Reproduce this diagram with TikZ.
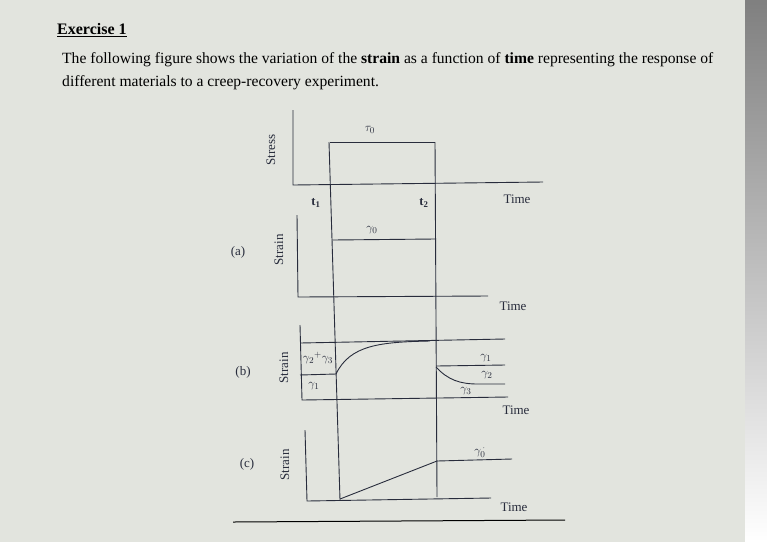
\documentclass[tikz,border=0pt]{standalone}
\usepackage{fontspec}
\setmainfont{Liberation Serif}
\definecolor{paper}{RGB}{226,228,222}
\definecolor{ink}{RGB}{40,44,60}
\definecolor{shade}{RGB}{60,62,64}
\begin{document}
\begin{tikzpicture}[x=1pt,y=-1pt,
  ax/.style={draw=ink,line width=0.9pt},
  lbl/.style={text=ink,font=\fontsize{13}{14}\selectfont,inner sep=0pt},
  gl/.style={text=ink,font=\fontsize{12.5}{13}\selectfont,inner sep=0pt},
  body/.style={text=black,font=\fontsize{15.6}{18}\selectfont,anchor=west,inner sep=0pt}]
\useasboundingbox (0,0) rectangle (767,542);
\fill[paper] (0,0) rectangle (767,542);
\fill[shade] (745,0) rectangle (767,542);
% heading and text
\node[body,font=\bfseries\fontsize{16}{18}\selectfont] (ex) at (57,30) {\underline{Exercise 1}};
\node[body] (l1) at (62,60) {The following figure shows the variation of the \textbf{strain} as a function of \textbf{time} representing the response of};
\node[body] (l2) at (62,83) {different materials to a creep-recovery experiment.};
% stress
\draw[ax] (293,110) -- (293,185) -- (543,182);
\draw[ax] (330,142) -- (435,142);
\draw[ax] (329,142) -- (340,500);
\draw[ax] (435,142) -- (437,497);
\node[lbl,rotate=90] (st) at (271,150) {Stress};
\node[gl] (tau) at (370,130) {$\tau_0$};
\node[gl] (t1) at (316,203) {$\mathbf{t_1}$};
\node[gl] (t2) at (424,203) {$\mathbf{t_2}$};
\node[lbl] (ti0) at (517,199) {Time};
% (a)
\draw[ax] (297,215) -- (298,297) -- (488,296);
\draw[ax] (332,240) -- (435,239);
\node[lbl] (pa) at (238,252) {(a)};
\node[lbl,rotate=90] (sa) at (279,250) {Strain};
\node[gl] (g0) at (372,230) {$\gamma_0$};
\node[lbl] (ti1) at (513,306) {Time};
% (b)
\draw[ax] (300,325) -- (302,400) -- (508,397);
\draw[ax] (300,343) -- (505,339);
\draw[ax] (300,375) -- (336,374);
\draw[ax] (336,374) .. controls (350,345) and (380,342) .. (430,341);
\draw[ax] (436,366) -- (505,365);
\draw[ax] (436,367) .. controls (448,380) and (460,384) .. (478,384) -- (505,384);
\node[lbl] (pb) at (243,372) {(b)};
\node[lbl,rotate=90] (sb) at (284,368) {Strain};
\node[gl] (g23) at (318,358) {$\gamma_2{}^+\gamma_3$};
\node[gl] (g1) at (314,386) {$\gamma_1$};
\node[gl] (g1r) at (486,358) {$\gamma_1$};
\node[gl] (g2r) at (487,375) {$\gamma_2$};
\node[gl] (g3r) at (466,391) {$\gamma_3$};
\node[lbl] (ti2) at (516,410) {Time};
% (c)
\draw[ax] (305,430) -- (307,501) -- (491,498);
\draw[ax] (340,499) -- (437,461) -- (512,459);
\node[lbl] (pc) at (247,464) {(c)};
\node[lbl,rotate=90] (sc) at (285,465) {Strain};
\node[gl] (g0p) at (480,452) {$\gamma_0^{\,\cdot}$};
\node[lbl] (ti3) at (514,507) {Time};
\draw[draw=black,line width=1pt] (233,522) -- (565,520);
\end{tikzpicture}
\end{document}
